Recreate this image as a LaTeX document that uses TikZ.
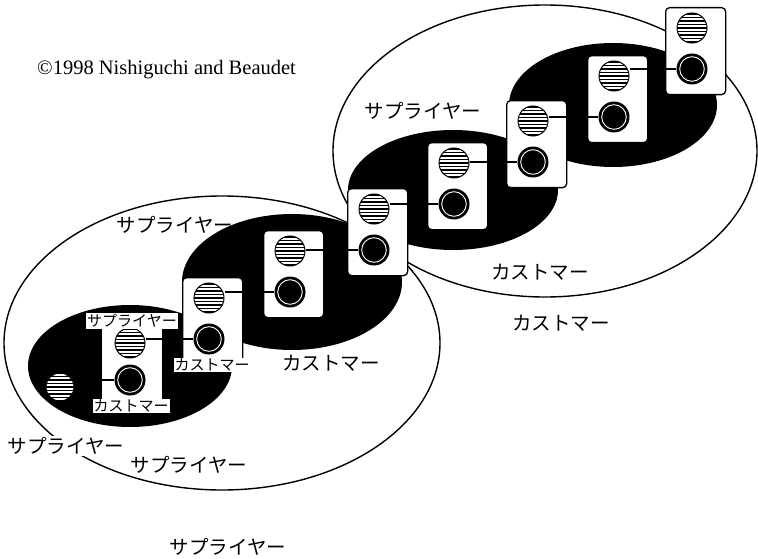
\documentclass[tikz,border=0pt]{standalone}
\usepackage{fontspec}
\setmainfont{Liberation Serif}
\newfontfamily\jp{Noto Sans CJK JP}
\begin{document}
\begin{tikzpicture}[x=1pt,y=-1pt,
  bigell/.style={draw=black, line width=1.4pt},
  blackell/.style={fill=black},
  panel/.style={draw=black, line width=1.3pt, fill=white, rounded corners=4pt, minimum width=60pt, minimum height=87pt, inner sep=0pt, anchor=north west},
  plainpanel/.style={fill=white, minimum width=60pt, minimum height=74pt, inner sep=0pt, anchor=north west},
  supp/.style={circle, draw=black, line width=1pt, fill=white, minimum size=30pt, inner sep=0pt, path picture={
     \foreach \k in {-4,...,4}{\fill[black] ([yshift=\k*3.5pt-0.9pt]path picture bounding box.west) rectangle ([yshift=\k*3.5pt+0.9pt]path picture bounding box.east);}}},
  cust/.style={circle, fill=black, minimum size=31pt, inner sep=0pt, path picture={\draw[white, line width=0.9pt] (path picture bounding box.center) circle[radius=12.3pt];}},
  link/.style={line width=2pt},
  biglabel/.style={font=\jp\fontsize{19.5}{20}\selectfont, inner sep=1pt},
  whitelabel/.style={biglabel, fill=white},
  smalllabel/.style={font=\jp\fontsize{15}{16}\selectfont, fill=white, inner sep=1pt},
]
\fill[white] (0,0) rectangle (758,559);
\useasboundingbox (0,0) rectangle (758,559);

% large outline ellipses
\draw[bigell] (222,343) ellipse [x radius=218pt, y radius=147pt];
\draw[bigell] (545,151) ellipse [x radius=212pt, y radius=146pt];

% black ellipses
\fill[blackell] (130,366) ellipse [x radius=102pt, y radius=61pt];
\fill[blackell] (292,282) ellipse [x radius=110pt, y radius=68pt];
\fill[blackell] (453,190) ellipse [x radius=105pt, y radius=60pt];
\fill[blackell] (613,105) ellipse [x radius=104pt, y radius=62pt];

% panels
\node[plainpanel] (p1) at (102,326) {};
\node[panel] (p2) at (182,277) {};
\node[panel] (p3) at (263,230) {};
\node[panel] (p4) at (347,188) {};
\node[panel] (p5) at (427,142) {};
\node[panel] (p6) at (506,100) {};
\node[panel] (p7) at (587,55) {};
\node[panel] (p8) at (665,7) {};

% circles
\node[supp, minimum size=28pt] (lone) at (60,387) {};
\node[supp] (s1) at (130,343) {};
\node[cust] (c1) at (130,380) {};
\node[supp] (s2) at (209,298) {};
\node[cust] (c2) at (209,339) {};
\node[supp] (s3) at (290,251) {};
\node[cust] (c3) at (290,292) {};
\node[supp] (s4) at (374,209) {};
\node[cust] (c4) at (374,250) {};
\node[supp] (s5) at (454,163) {};
\node[cust] (c5) at (454,204) {};
\node[supp] (s6) at (533,121) {};
\node[cust] (c6) at (533,162) {};
\node[supp] (s7) at (614,76) {};
\node[cust] (c7) at (614,117) {};
\node[supp] (s8) at (692,28) {};
\node[cust] (c8) at (692,69) {};

% links
\draw[link] (lone.east |- c1.west) -- (c1.west);
\draw[link] (s1.east |- c2.west) -- (c2.west);
\draw[link] (s2.east |- c3.west) -- (c3.west);
\draw[link] (s3.east |- c4.west) -- (c4.west);
\draw[link] (s4.east |- c5.west) -- (c5.west);
\draw[link] (s5.east |- c6.west) -- (c6.west);
\draw[link] (s6.east |- c7.west) -- (c7.west);
\draw[link] (s7.east |- c8.west) -- (c8.west);

% labels
\node[font=\fontsize{20.5}{22}\selectfont, anchor=west, inner sep=0pt] (copy) at (37,70) {©1998 Nishiguchi and Beaudet};
\node[biglabel] (l1) at (423,111) {サプライヤー};
\node[biglabel] (l2) at (175,225) {サプライヤー};
\node[biglabel] (l3) at (540,272) {カストマー};
\node[biglabel] (l4) at (561,323) {カストマー};
\node[biglabel] (l5) at (331,363) {カストマー};
\node[whitelabel] (l6) at (66,446) {サプライヤー};
\node[biglabel] (l7) at (189,465) {サプライヤー};
\node[biglabel] (l8) at (228,547) {サプライヤー};
\node[smalllabel] (l9) at (132,321) {サプライヤー};
\node[smalllabel] (l10) at (212,365) {カストマー};
\node[smalllabel] (l11) at (131,406) {カストマー};
\end{tikzpicture}
\end{document}
